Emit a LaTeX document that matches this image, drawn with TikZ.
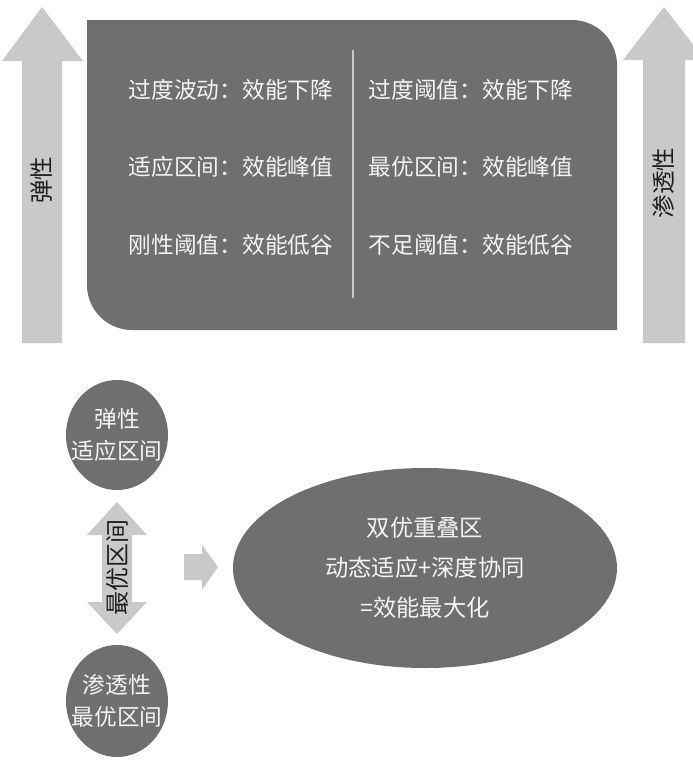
\documentclass[tikz,border=0pt]{standalone}
\usepackage{fontspec}
\setmainfont{Noto Sans CJK SC}
\usetikzlibrary{shapes.geometric}
\definecolor{boxgray}{HTML}{6F6F6F}
\definecolor{arrowgray}{HTML}{C9C9C9}
\definecolor{lighttext}{HTML}{F4F4F4}
\definecolor{darktext}{HTML}{1E1E1E}

\tikzset{
    boxtext/.style={text=lighttext, inner sep=0pt, font=\fontsize{22.7}{26}\selectfont},
    arrowtext/.style={text=darktext, inner sep=0pt, rotate=90, font=\fontsize{23.5}{26}\selectfont},
    zone/.style={ellipse, fill=boxgray, text=lighttext, align=center, inner sep=0pt},
    smallzone/.style={zone, inner xsep=-14pt, minimum width=102pt, font=\fontsize{22.7}{32}\selectfont},
}

\begin{document}
\begin{tikzpicture}[x=1pt, y=-1pt]
    \useasboundingbox (0,0) rectangle (693,771);

    % Elasticity arrow
    \fill[arrowgray] (22,343) -- (22,61) -- (2,61) -- (42,7) -- (83,61) -- (62,61) -- (62,343) -- cycle;
    \node[arrowtext] (elaslbl) at (42,180) {弹性};

    % Permeability arrow
    \fill[arrowgray] (643,343) -- (643,60) -- (623,60) -- (664,7) -- (705,60) -- (685,60) -- (685,343) -- cycle;
    \node[arrowtext] (permlbl) at (664,183) {渗透性};

    % Main box
    \fill[boxgray] (87,20) -- (572,20) arc[start angle=270, end angle=360, radius=45]
        -- (617,330) -- (132,330) arc[start angle=90, end angle=180, radius=45] -- cycle;
    \draw[arrowgray, line width=1.6pt] (353,50) -- (353,298);

    % Left column
    \node[boxtext] (elashigh) at (231,90) {过度波动：效能下降};
    \node[boxtext] (elasmid) at (231,167) {适应区间：效能峰值};
    \node[boxtext] (elaslow) at (231,245) {刚性阈值：效能低谷};

    % Right column
    \node[boxtext] (permhigh) at (471,90) {过度阈值：效能下降};
    \node[boxtext] (permmid) at (471,167) {最优区间：效能峰值};
    \node[boxtext] (permlow) at (471,245) {不足阈值：效能低谷};

    % Two ranges
    \node[smallzone, minimum height=110pt] (elaszone) at (117,435) {弹性\\适应区间};
    \node[smallzone, minimum height=112pt] (permzone) at (117,701) {渗透性\\最优区间};

    % Double arrow between them
    \fill[arrowgray] (117,502) -- (147,535) -- (132,535) -- (132,602) -- (147,602) -- (117,634)
        -- (87,602) -- (102,602) -- (102,535) -- (87,535) -- cycle;
    \node[arrowtext, font=\fontsize{24}{26}\selectfont] (bestlbl) at (117,567) {最优区间};

    % Small arrow
    \fill[arrowgray] (184,554) -- (202,554) -- (202,545) -- (218,567) -- (202,590) -- (202,580) -- (184,580) -- cycle;

    % Overlap zone
    \node[zone, minimum width=384pt, minimum height=200pt, font=\fontsize{23.3}{40}\selectfont]
        (overlap) at (425,568) {双优重叠区\\动态适应+深度协同\\=效能最大化};
\end{tikzpicture}
\end{document}
